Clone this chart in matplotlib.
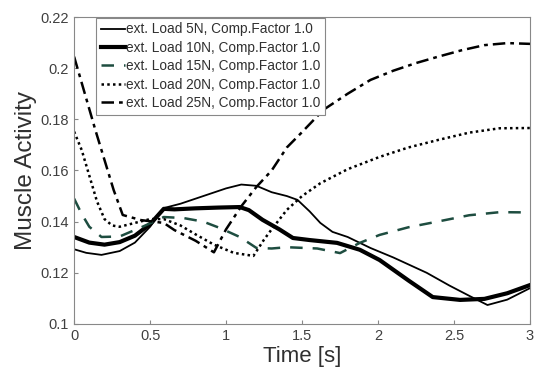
import numpy as np
import matplotlib.pyplot as plt

plt.rcParams['font.family'] = ['Liberation Sans', 'DejaVu Sans']

# values
t5 = [0, 0.08, 0.18, 0.3, 0.4, 0.5, 0.59, 0.7, 0.85, 1.0, 1.1, 1.2, 1.3, 1.4, 1.47, 1.55, 1.62, 1.7, 1.8, 1.95, 2.1, 2.32, 2.47, 2.6, 2.72, 2.85, 3.0]
a5 = [0.1292, 0.1278, 0.127, 0.1285, 0.1318, 0.138, 0.1453, 0.147, 0.150, 0.153, 0.1545, 0.154, 0.1515, 0.150, 0.1485, 0.144, 0.1395, 0.136, 0.134, 0.1297, 0.126, 0.120, 0.115, 0.111, 0.1074, 0.1095, 0.114]

t10 = [0, 0.1, 0.2, 0.3, 0.4, 0.5, 0.59, 0.66, 0.8, 0.95, 1.09, 1.15, 1.24, 1.35, 1.44, 1.55, 1.73, 1.88, 2.01, 2.2, 2.36, 2.54, 2.7, 2.85, 3.0]
a10 = [0.134, 0.1318, 0.131, 0.132, 0.1345, 0.139, 0.145, 0.1448, 0.1452, 0.1455, 0.1457, 0.1445, 0.1407, 0.137, 0.1336, 0.1328, 0.1317, 0.129, 0.125, 0.117, 0.1105, 0.1094, 0.1098, 0.112, 0.1152]

t15 = [0, 0.05, 0.1, 0.18, 0.3, 0.45, 0.59, 0.72, 0.85, 0.96, 1.09, 1.2, 1.3, 1.4, 1.6, 1.75, 1.88, 2.01, 2.2, 2.39, 2.6, 2.8, 3.0]
a15 = [0.149, 0.143, 0.138, 0.134, 0.1342, 0.138, 0.1418, 0.1414, 0.140, 0.1375, 0.134, 0.1297, 0.1295, 0.130, 0.1295, 0.1277, 0.1317, 0.1348, 0.1378, 0.140, 0.1425, 0.1437, 0.1436]

t20 = [0, 0.05, 0.1, 0.15, 0.2, 0.25, 0.3, 0.4, 0.5, 0.59, 0.7, 0.8, 0.92, 1.05, 1.18, 1.25, 1.3, 1.4, 1.5, 1.62, 1.8, 2.01, 2.2, 2.4, 2.6, 2.8, 3.0]
a20 = [0.1752, 0.168, 0.158, 0.148, 0.141, 0.1385, 0.138, 0.1395, 0.141, 0.141, 0.1385, 0.135, 0.131, 0.1278, 0.1266, 0.133, 0.137, 0.1446, 0.150, 0.155, 0.1605, 0.1653, 0.169, 0.172, 0.1748, 0.1765, 0.1766]

t25 = [0, 0.14, 0.26, 0.32, 0.44, 0.59, 0.66, 0.8, 0.92, 1.0, 1.1, 1.2, 1.3, 1.4, 1.5, 1.64, 1.8, 1.95, 2.1, 2.25, 2.39, 2.55, 2.7, 2.85, 3.0]
a25 = [0.2045, 0.1758, 0.1524, 0.1426, 0.1406, 0.1395, 0.1367, 0.1325, 0.128, 0.137, 0.146, 0.1536, 0.160, 0.169, 0.175, 0.1837, 0.190, 0.1954, 0.199, 0.202, 0.2044, 0.207, 0.209, 0.2098, 0.2095]

labels = ['ext. Load 5N, Comp.Factor 1.0', 'ext. Load 10N, Comp.Factor 1.0',
          'ext. Load 15N, Comp.Factor 1.0', 'ext. Load 20N, Comp.Factor 1.0',
          'ext. Load 25N, Comp.Factor 1.0']

fig = plt.figure(figsize=(5.37, 3.78), dpi=100)
ax = fig.add_axes([0.138, 0.143, 0.849, 0.812])

ax.plot(t5, a5, color='black', lw=1.3, label=labels[0])
ax.plot(t10, a10, color='black', lw=3.0, label=labels[1])
ax.plot(t15, a15, color='#1e4d40', lw=1.8, ls=(0, (5, 4)), label=labels[2])
ax.plot(t20, a20, color='black', lw=1.8, ls=(0, (1, 1.3)), label=labels[3])
ax.plot(t25, a25, color='black', lw=1.8, ls=(0, (5, 2, 1.5, 2)), label=labels[4])

ax.set_xlim(0, 3)
ax.set_ylim(0.1, 0.22)
ax.set_xticks([0, 0.5, 1, 1.5, 2, 2.5, 3])
ax.set_xticklabels(['0', '0.5', '1', '1.5', '2', '2.5', '3'])
ax.set_yticks([0.1, 0.12, 0.14, 0.16, 0.18, 0.2, 0.22])
ax.set_yticklabels(['0.1', '0.12', '0.14', '0.16', '0.18', '0.2', '0.22'])
ax.tick_params(direction='in', length=3, colors='#888888', labelcolor='#404040', labelsize=10.5)
for s in ax.spines.values():
    s.set_color('#888888')
    s.set_linewidth(0.8)

ax.set_xlabel('Time [s]', fontsize=16, color='#303030', labelpad=2)
ax.set_ylabel('Muscle Activity', fontsize=17.5, color='#303030', labelpad=3)

leg = ax.legend(loc='upper left', bbox_to_anchor=(0.046, 1.0), fontsize=9.8, handlelength=1.8,
                handletextpad=0.05, borderaxespad=0.05, labelspacing=0.32, borderpad=0.35,
                fancybox=False, framealpha=1, edgecolor='#888888')
leg.get_frame().set_linewidth(0.8)
for txt in leg.get_texts():
    txt.set_color('#303030')

fig.savefig('out.png', dpi=100)
